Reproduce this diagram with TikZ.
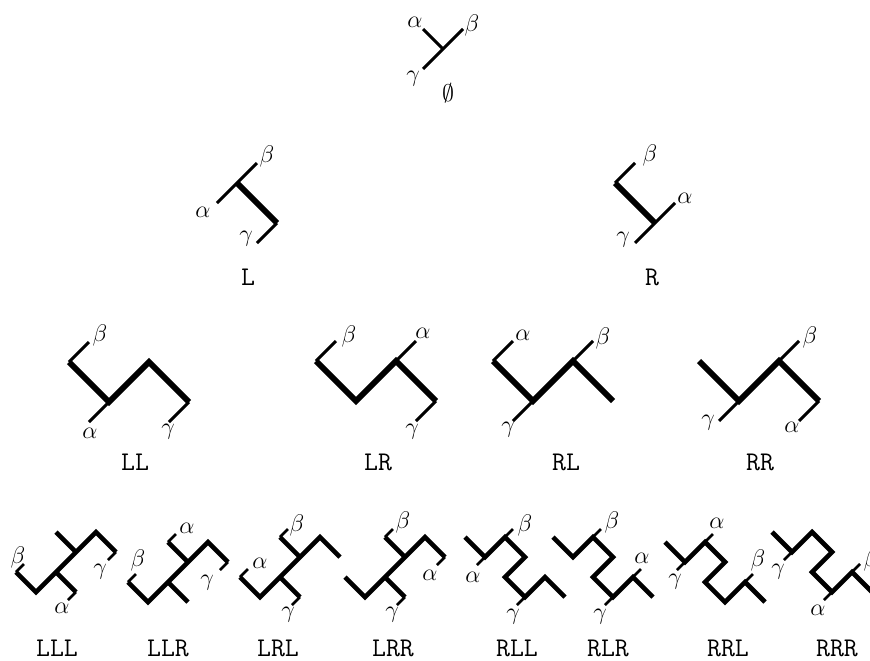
\documentclass[tikz,border=0pt]{standalone}
\usepackage{tikz}
\usepackage{amssymb}

\begin{document}
\begin{tikzpicture}[x=0.5pt,y=-0.5pt,line join=miter,
  leg/.style={line width=1.5pt},
  inner edge/.style={line width=2.9pt},
  small leg/.style={line width=1.3pt},
  small edge/.style={line width=2.3pt},
  greek/.style={font=\large,inner sep=0pt},
  word/.style={font=\fontsize{13.5}{16}\selectfont\ttfamily,inner sep=0pt}]
  \clip (0,0) rectangle (870,660);

  % empty word
  \draw[leg] (423,69) -- (463,29);
  \draw[leg] (423,29) -- (443,49);
  \node[greek] (a0) at (415,22) {$\alpha$};
  \node[greek] (b0) at (472,25) {$\beta$};
  \node[greek] (c0) at (413,79) {$\gamma$};
  \node[greek] (w0) at (448,93) {$\emptyset$};

  % L
  \draw[leg] (217,203) -- (257,163);
  \draw[inner edge] (237,183) -- (277,223);
  \draw[leg] (277,223) -- (257,243);
  \node[greek] (aL) at (203,212) {$\alpha$};
  \node[greek] (bL) at (267,156) {$\beta$};
  \node[greek] (cL) at (246,239) {$\gamma$};
  \node[word] (wL) at (248,277) {L};

  % R
  \draw[leg] (615,183) -- (635,163);
  \draw[inner edge] (615,183) -- (655,223);
  \draw[leg] (635,243) -- (675,203);
  \node[greek] (aR) at (685,198) {$\alpha$};
  \node[greek] (bR) at (650,155) {$\beta$};
  \node[greek] (cR) at (623,240) {$\gamma$};
  \node[word] (wR) at (652,277) {R};

  % LL
  \draw[inner edge] (69,362) -- (109,402) -- (149,362) -- (189,402);
  \draw[leg] (69,362) -- (89,342);
  \draw[leg] (109,402) -- (89,422);
  \draw[leg] (189,402) -- (169,422);
  \node[greek] (aLL) at (90,433) {$\alpha$};
  \node[greek] (bLL) at (100,335) {$\beta$};
  \node[greek] (cLL) at (168,432) {$\gamma$};
  \node[word] (wLL) at (135,462) {LL};

  % LR
  \draw[inner edge] (316,361) -- (356,401) -- (396,361) -- (436,401);
  \draw[leg] (316,361) -- (336,341);
  \draw[leg] (396,361) -- (416,341);
  \draw[leg] (436,401) -- (416,421);
  \node[greek] (aLR) at (423,333) {$\alpha$};
  \node[greek] (bLR) at (349,336) {$\beta$};
  \node[greek] (cLR) at (412,432) {$\gamma$};
  \node[word] (wLR) at (378,462) {LR};

  % RL
  \draw[inner edge] (493,361) -- (533,401) -- (573,361) -- (613,401);
  \draw[leg] (493,361) -- (513,341);
  \draw[leg] (533,401) -- (513,421);
  \draw[leg] (573,361) -- (593,341);
  \node[greek] (aRL) at (523,335) {$\alpha$};
  \node[greek] (bRL) at (603,338) {$\beta$};
  \node[greek] (cRL) at (508,430) {$\gamma$};
  \node[word] (wRL) at (566,462) {RL};

  % RR
  \draw[inner edge] (699,361) -- (739,401) -- (779,361) -- (819,401);
  \draw[leg] (739,401) -- (719,421);
  \draw[leg] (779,361) -- (799,341);
  \draw[leg] (819,401) -- (799,421);
  \node[greek] (aRR) at (792,427) {$\alpha$};
  \node[greek] (bRR) at (810,337) {$\beta$};
  \node[greek] (cRR) at (708,423) {$\gamma$};
  \node[word] (wRR) at (760,462) {RR};

  % LLL
  \draw[small edge] (16,572) -- (36,592) -- (96,532) -- (116,552);
  \draw[small edge] (76,552) -- (56,532);
  \draw[small edge] (56,572) -- (76,592);
  \draw[small leg] (16,572) -- (24,564);
  \draw[small leg] (116,552) -- (108,560);
  \draw[small leg] (76,592) -- (68,600);
  \node[greek] (aLLL) at (62,608) {$\alpha$};
  \node[greek] (bLLL) at (18,557) {$\beta$};
  \node[greek] (cLLL) at (100,572) {$\gamma$};
  \node[word] (wLLL) at (57,648) {LLL};

  % LLR
  \draw[small edge] (128,582) -- (148,602) -- (208,542) -- (228,562);
  \draw[small edge] (168,582) -- (188,602);
  \draw[small edge] (188,562) -- (168,542);
  \draw[small leg] (128,582) -- (136,574);
  \draw[small leg] (228,562) -- (220,570);
  \draw[small leg] (168,542) -- (176,534);
  \node[greek] (aLLR) at (187,528) {$\alpha$};
  \node[greek] (bLLR) at (138,560) {$\beta$};
  \node[greek] (cLLR) at (207,583) {$\gamma$};
  \node[word] (wLLR) at (168,648) {LLR};

  % LRL
  \draw[small edge] (240,577) -- (260,597) -- (320,537) -- (340,557);
  \draw[small edge] (300,557) -- (280,537);
  \draw[small edge] (280,577) -- (300,597);
  \draw[small leg] (240,577) -- (248,569);
  \draw[small leg] (280,537) -- (288,529);
  \draw[small leg] (300,597) -- (292,605);
  \node[greek] (aLRL) at (260,563) {$\alpha$};
  \node[greek] (bLRL) at (297,525) {$\beta$};
  \node[greek] (cLRL) at (288,615) {$\gamma$};
  \node[word] (wLRL) at (278,648) {LRL};

  % LRR
  \draw[small edge] (345,577) -- (365,597) -- (425,537) -- (445,557);
  \draw[small edge] (405,557) -- (385,537);
  \draw[small edge] (385,577) -- (405,597);
  \draw[small leg] (445,557) -- (437,565);
  \draw[small leg] (385,537) -- (393,529);
  \draw[small leg] (405,597) -- (397,605);
  \node[greek] (aLRR) at (430,575) {$\alpha$};
  \node[greek] (bLRR) at (403,522) {$\beta$};
  \node[greek] (cLRR) at (392,615) {$\gamma$};
  \node[word] (wLRR) at (393,648) {LRR};

  % RLL
  \draw[small edge] (465,537) -- (485,557) -- (505,537) -- (525,557) -- (505,577)
    -- (525,597) -- (545,577) -- (565,597);
  \draw[small leg] (485,557) -- (477,565);
  \draw[small leg] (505,537) -- (513,529);
  \draw[small leg] (525,597) -- (517,605);
  \node[greek] (aRLL) at (473,577) {$\alpha$};
  \node[greek] (bRLL) at (525,525) {$\beta$};
  \node[greek] (cRLL) at (513,617) {$\gamma$};
  \node[word] (wRLL) at (517,648) {RLL};

  % RLR
  \draw[small edge] (553,537) -- (573,557) -- (593,537) -- (613,557) -- (593,577)
    -- (613,597) -- (633,577) -- (653,597);
  \draw[small leg] (593,537) -- (601,529);
  \draw[small leg] (613,597) -- (605,605);
  \draw[small leg] (633,577) -- (641,569);
  \node[greek] (aRLR) at (642,558) {$\alpha$};
  \node[greek] (bRLR) at (612,522) {$\beta$};
  \node[greek] (cRLR) at (600,617) {$\gamma$};
  \node[word] (wRLR) at (608,648) {RLR};

  % RRL
  \draw[small edge] (665,542) -- (685,562) -- (705,542) -- (725,562) -- (705,582)
    -- (725,602) -- (745,582) -- (765,602);
  \draw[small leg] (685,562) -- (677,570);
  \draw[small leg] (705,542) -- (713,534);
  \draw[small leg] (745,582) -- (753,574);
  \node[greek] (aRRL) at (717,523) {$\alpha$};
  \node[greek] (bRRL) at (758,560) {$\beta$};
  \node[greek] (cRRL) at (675,582) {$\gamma$};
  \node[word] (wRRL) at (728,648) {RRL};

  % RRR
  \draw[small edge] (772,532) -- (792,552) -- (812,532) -- (832,552) -- (812,572)
    -- (832,592) -- (852,572) -- (872,592);
  \draw[small leg] (792,552) -- (784,560);
  \draw[small leg] (832,592) -- (824,600);
  \draw[small leg] (852,572) -- (860,564);
  \node[greek] (aRRR) at (818,610) {$\alpha$};
  \node[greek] (bRRR) at (871,560) {$\beta$};
  \node[greek] (cRRR) at (778,572) {$\gamma$};
  \node[word] (wRRR) at (837,648) {RRR};
\end{tikzpicture}
\end{document}
